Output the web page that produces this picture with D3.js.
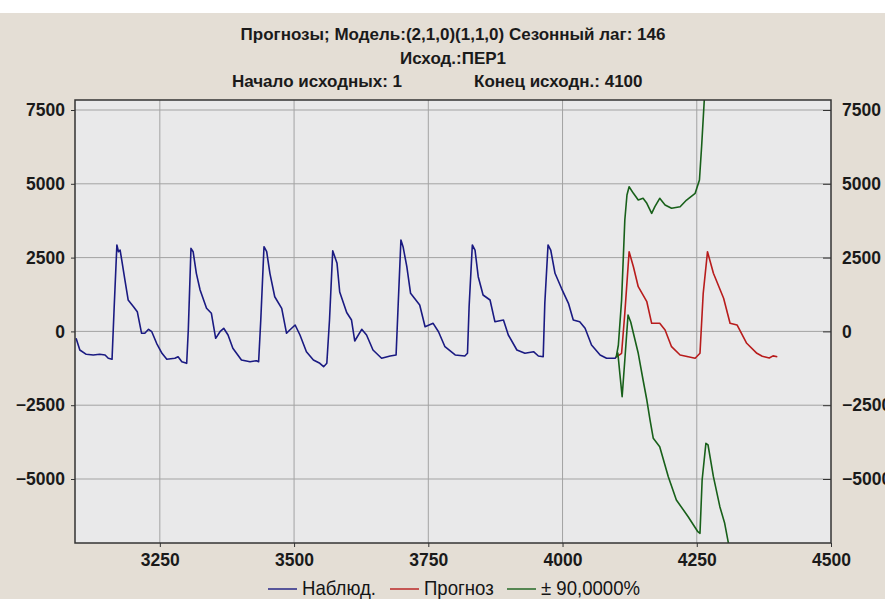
<!DOCTYPE html>
<meta charset="utf-8">
<style>
body { margin: 0; }
svg text { font-family: "Liberation Sans", Arial, sans-serif; fill: #151515; }
.title { font-size: 17px; font-weight: bold; fill: #1a1a1a; }
.grid line { stroke: #a3a3a3; stroke-width: 1; }
.axis text { font-size: 17.5px; font-weight: bold; fill: #1a1a1a; }
.axis path { display: none; }
.axis line { stroke: #333; }
.legend text { font-size: 20px; }
</style>
<svg width="885" height="599"></svg>
<script src="https://cdn.jsdelivr.net/npm/d3@7/dist/d3.min.js"></script>
<script>
// tick labels
var xTicks = [3250, 3500, 3750, 4000, 4250, 4500];
var yTicks = [-5000, -2500, 0, 2500, 5000, 7500];

var titleLines = ["Прогнозы; Модель:(2,1,0)(1,1,0) Сезонный лаг: 146", "Исход.:ПЕР1"];
var startLabel = "Начало исходных: 1";
var endLabel = "Конец исходн.: 4100";
var legendLabels = ["Наблюд.", "Прогноз", "± 90,0000%"];

// observed series (case, value)
var observed = [
  [3094,-234],[3101,-630],[3113,-776],[3126,-799],[3138,-776],[3148,-799],[3154,-911],[3161,-945],
  [3165,837],[3170,2927],[3173,2700],[3176,2757],[3179,2419],[3185,1741],[3191,1064],[3201,837],
  [3208,668],[3216,-64],[3222,-64],[3229,71],[3235,-10],[3244,-403],[3254,-742],[3263,-945],
  [3278,-911],[3284,-857],[3291,-1026],[3300,-1081],[3303,47],[3308,2815],[3312,2700],[3318,1968],
  [3325,1402],[3337,783],[3346,613],[3354,-234],[3362,-10],[3369,105],[3377,-122],[3386,-572],
  [3402,-969],[3418,-1026],[3430,-993],[3434,-1026],[3438,386],[3444,2869],[3449,2700],[3455,1968],
  [3464,1175],[3477,783],[3486,-64],[3492,47],[3502,217],[3511,-122],[3523,-688],[3536,-969],
  [3548,-1081],[3555,-1196],[3561,-1081],[3566,386],[3572,2734],[3580,2307],[3585,1335],[3598,640],
  [3607,386],[3613,-325],[3626,71],[3635,-122],[3647,-630],[3663,-911],[3679,-833],[3690,-799],
  [3694,952],[3699,3096],[3703,2869],[3710,2192],[3717,1291],[3734,894],[3744,159],[3759,274],
  [3769,-10],[3781,-518],[3800,-799],[3818,-833],[3823,-742],[3826,837],[3832,2927],[3837,2757],
  [3843,1853],[3852,1233],[3865,1064],[3874,329],[3890,386],[3899,-122],[3915,-630],[3930,-742],
  [3946,-688],[3955,-833],[3964,-857],[3967,952],[3973,2927],[3978,2757],[3986,1968],[3998,1460],
  [4011,952],[4020,386],[4032,329],[4042,105],[4054,-461],[4070,-799],[4082,-911],[4098,-911],
  [4100,-870]
];

// forecast
var forecast = [
  [4100,-870],[4110,-742],[4116,613],[4124,2700],[4132,2192],[4141,1514],[4157,1006],[4166,274],
  [4181,274],[4191,47],[4203,-518],[4219,-799],[4234,-857],[4247,-911],[4256,-742],[4262,1291],
  [4270,2700],[4281,1968],[4300,1121],[4312,274],[4325,217],[4343,-403],[4362,-742],[4372,-840],
  [4385,-900],[4392,-830],[4400,-860]
];

// 90% limits
var upper = [
  [4100,-870],[4104,-461],[4110,1064],[4116,3774],[4120,4620],[4124,4902],[4132,4678],[4141,4451],
  [4150,4509],[4157,4339],[4166,4001],[4172,4224],[4181,4509],[4191,4282],[4203,4170],[4219,4224],
  [4231,4451],[4247,4678],[4255,5129],[4259,6257],[4264,7839],[4268,9500]
];
var lower = [
  [4100,-870],[4103,-732],[4107,-1477],[4111,-2212],[4116,-969],[4122,556],[4127,318],[4132,-64],
  [4141,-742],[4150,-1646],[4157,-2324],[4163,-3002],[4169,-3621],[4181,-3906],[4197,-4922],
  [4212,-5711],[4234,-6277],[4252,-6786],[4256,-6839],[4260,-5034],[4267,-3791],[4271,-3848],
  [4281,-4922],[4293,-5938],[4302,-6501],[4309,-7178],[4315,-7900]
];

var svg = d3.select("svg"),
    width = +svg.attr("width"),
    height = +svg.attr("height");

var margin = {top: 100, right: 54, bottom: 56, left: 75};

var x = d3.scaleLinear()
    .domain([3092, 4500])
    .range([margin.left, width - margin.right]);

var y = d3.scaleLinear()
    .domain([-7168, 7839])
    .range([height - margin.bottom, margin.top]);

// background
svg.append("rect").attr("width", width).attr("height", height).attr("fill", "#fff");
svg.append("rect").attr("y", 13).attr("width", width).attr("height", height - 13).attr("fill", "#e4ded5");
svg.append("rect")
    .attr("x", margin.left).attr("y", margin.top)
    .attr("width", x.range()[1] - x.range()[0])
    .attr("height", y.range()[0] - y.range()[1])
    .attr("fill", "#e9e9ea");

// titles
svg.append("text").attr("class", "title").attr("x", 453).attr("y", 40)
    .attr("text-anchor", "middle").text(titleLines[0]);
svg.append("text").attr("class", "title").attr("x", 453).attr("y", 64)
    .attr("text-anchor", "middle").text(titleLines[1]);
svg.append("text").attr("class", "title").attr("x", 402).attr("y", 87)
    .attr("text-anchor", "end").text(startLabel);
svg.append("text").attr("class", "title").attr("x", 474).attr("y", 87)
    .attr("text-anchor", "start").text(endLabel);

// grid
var grid = svg.append("g").attr("class", "grid");
grid.selectAll("line.h").data(yTicks).enter().append("line")
    .attr("x1", x.range()[0]).attr("x2", x.range()[1])
    .attr("y1", function(d) { return y(d); }).attr("y2", function(d) { return y(d); });
grid.selectAll("line.v").data(xTicks.slice(0, -1)).enter().append("line")
    .attr("y1", y.range()[0]).attr("y2", y.range()[1])
    .attr("x1", function(d) { return x(d); }).attr("x2", function(d) { return x(d); });

// axes
svg.append("g").attr("class", "axis")
    .attr("transform", "translate(" + margin.left + ",0)")
    .call(d3.axisLeft(y).tickValues(yTicks).tickSize(4).tickPadding(6).tickFormat(d3.format("d")));
svg.append("g").attr("class", "axis")
    .attr("transform", "translate(" + (width - margin.right) + ",0)")
    .call(d3.axisRight(y).tickValues(yTicks).tickSize(-8).tickPadding(11).tickFormat(d3.format("d")));
svg.append("g").attr("class", "axis")
    .attr("transform", "translate(0," + (height - margin.bottom) + ")")
    .call(d3.axisBottom(x).tickValues(xTicks).tickSize(4).tickPadding(7).tickFormat(d3.format("d")));

// series
svg.append("clipPath").attr("id", "clip").append("rect")
    .attr("x", margin.left).attr("y", margin.top)
    .attr("width", x.range()[1] - x.range()[0])
    .attr("height", y.range()[0] - y.range()[1]);

var line = d3.line()
    .x(function(d) { return x(d[0]); })
    .y(function(d) { return y(d[1]); });

var plot = svg.append("g").attr("clip-path", "url(#clip)");
var series = [
  {data: observed, color: "#1a1a82"},
  {data: forecast, color: "#b81c1c"},
  {data: upper, color: "#18601a"},
  {data: lower, color: "#18601a"}
];
plot.selectAll("path").data(series).enter().append("path")
    .attr("fill", "none")
    .attr("stroke", function(d) { return d.color; })
    .attr("stroke-width", 1.6)
    .attr("stroke-linejoin", "round")
    .attr("d", function(d) { return line(d.data); });

// frame
svg.append("rect")
    .attr("x", margin.left).attr("y", margin.top)
    .attr("width", x.range()[1] - x.range()[0])
    .attr("height", y.range()[0] - y.range()[1])
    .attr("fill", "none").attr("stroke", "#333").attr("stroke-width", 1.5);

// legend
var legendColors = ["#1a1a82", "#b81c1c", "#18601a"];
var legendX = [268, 390, 507];
var legend = svg.append("g").attr("class", "legend");
legendLabels.forEach(function(t, i) {
  legend.append("line")
      .attr("x1", legendX[i]).attr("x2", legendX[i] + 29)
      .attr("y1", 589).attr("y2", 589)
      .attr("stroke", legendColors[i]).attr("stroke-width", 1.4);
  legend.append("text")
      .attr("transform", "translate(" + (legendX[i] + 34) + ",595) scale(0.93,1)")
      .text(t);
});
</script>
